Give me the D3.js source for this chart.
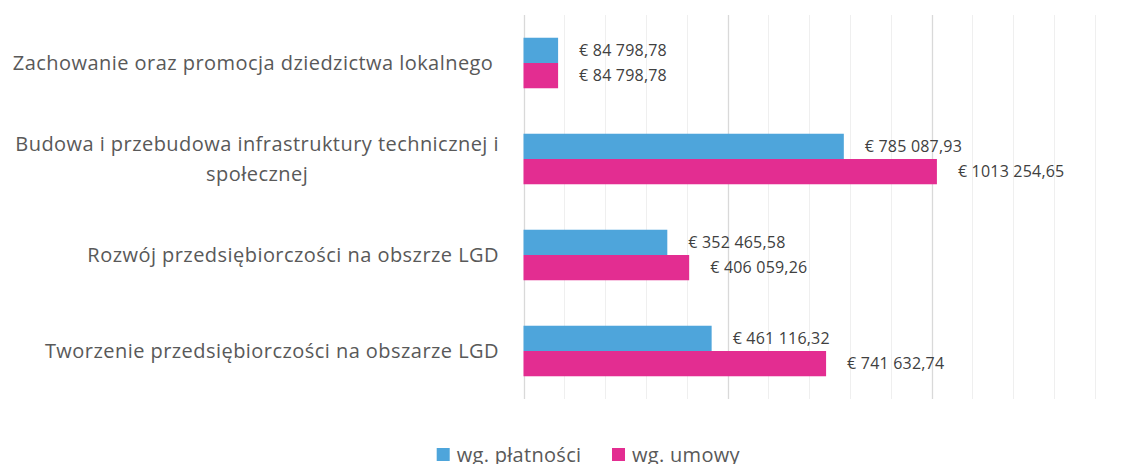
<!DOCTYPE html>
<html>
<head>
<meta charset="utf-8">
<script src="https://cdn.jsdelivr.net/npm/d3@7"></script>
<style>
  html, body { margin: 0; padding: 0; background: #fff; }
  svg { display: block; }
  text { font-family: "Open Sans", "Noto Sans", sans-serif; }
</style>
</head>
<body>
<svg id="chart" width="1123" height="464"></svg>
<script>
// ---- data ----
const categories = [
  "Zachowanie oraz promocja dziedzictwa lokalnego ",
  "Budowa i przebudowa infrastruktury technicznej i|społecznej",
  "Rozwój przedsiębiorczości na obszrze LGD",
  "Tworzenie przedsiębiorczości na obszarze LGD"
];
const seriesNames = ["wg. płatności", "wg. umowy"];
const platnosci = [84798.78, 785087.93, 352465.58, 461116.32];
const umowy = [84798.78, 1013254.65, 406059.26, 741632.74];
const seriesColors = ["#4EA5DB", "#E32D91"];
const axisMax = 1400000;
const minorStep = 100000;
const majorStep = 500000;

// ---- layout ----
const svg = d3.select("#chart");
const plotLeft = 523.5, plotRight = 1094.7, plotTop = 15, plotBottom = 399;

const x = d3.scaleLinear().domain([0, axisMax]).range([plotLeft, plotRight]);
const y = d3.scaleBand().domain(categories).range([plotTop, plotBottom]).padding(0);
const ySub = d3.scaleBand().domain(seriesNames).range([0, y.bandwidth()])
  .paddingInner(0).paddingOuter(0.9);

// format like "€ 1013 254,65"
function fmt(v) {
  const s = v.toFixed(2);
  let [ip, dp] = s.split(".");
  if (ip.length > 3) ip = ip.slice(0, ip.length - 3) + " " + ip.slice(-3);
  return "€ " + ip + "," + dp;
}

// gridlines
const ticks = d3.range(0, axisMax + 1, minorStep);
svg.append("g").selectAll("line").data(ticks).join("line")
  .attr("x1", d => Math.round(x(d)) + 0.5)
  .attr("x2", d => Math.round(x(d)) + 0.5)
  .attr("y1", plotTop).attr("y2", plotBottom)
  .attr("stroke", d => (d % majorStep === 0) ? "#d9d9d9" : "#efefef")
  .attr("stroke-width", d => (d % majorStep === 0) ? 1.3 : 1);

// bars
const data = categories.flatMap((c, i) => [
  { cat: c, s: seriesNames[0], v: platnosci[i], color: seriesColors[0] },
  { cat: c, s: seriesNames[1], v: umowy[i], color: seriesColors[1] }
]);

svg.append("g").selectAll("rect").data(data).join("rect")
  .attr("x", x(0))
  .attr("y", d => y(d.cat) + ySub(d.s))
  .attr("width", d => x(d.v) - x(0))
  .attr("height", ySub.bandwidth())
  .attr("fill", d => d.color);

// value labels
svg.append("g").selectAll("text").data(data).join("text")
  .attr("x", d => x(d.v) + 21)
  .attr("y", d => y(d.cat) + ySub(d.s) + ySub.bandwidth() / 2)
  .attr("dy", "0.35em")
  .attr("font-size", 16)
  .attr("letter-spacing", 0.2)
  .attr("fill", "#404040")
  .text(d => fmt(d.v));

// category labels
const catG = svg.append("g");
categories.forEach(c => {
  const lines = c.split("|");
  const lh = 30;
  const cy = y(c) + y.bandwidth() / 2;
  const t = catG.append("text")
    .attr("font-size", 20)
    .attr("letter-spacing", 0.45)
    .attr("fill", "#595959")
    .style("white-space", "pre");
  lines.forEach((ln, k) => {
    t.append("tspan")
      .attr("y", cy + (k - (lines.length - 1) / 2) * lh)
      .attr("dy", "0.35em")
      .text(ln);
  });
  const widths = [];
  t.selectAll("tspan").each(function() { widths.push(this.getComputedTextLength()); });
  const maxW = d3.max(widths);
  const rightEdge = 499;
  t.selectAll("tspan").attr("text-anchor", "middle").attr("x", rightEdge - maxW / 2);
});

// legend
const leg = svg.append("g");
const legX = [436.7, 612];
seriesNames.forEach((n, i) => {
  leg.append("rect").attr("x", legX[i]).attr("y", 448).attr("width", 13).attr("height", 13)
    .attr("fill", seriesColors[i]);
  leg.append("text").attr("x", legX[i] + 20).attr("y", 455).attr("dy", "0.35em")
    .attr("font-size", 20).attr("letter-spacing", 0.3)
    .attr("fill", "#595959").text(n);
});
</script>
</body>
</html>
